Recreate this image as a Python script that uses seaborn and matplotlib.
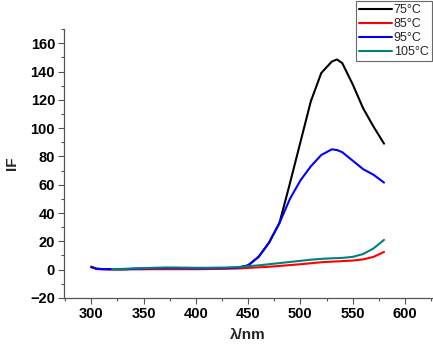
import matplotlib
matplotlib.use("Agg")
import matplotlib.pyplot as plt
import pandas as pd
import seaborn as sns
from matplotlib.ticker import MultipleLocator

sns.set_style("ticks")
plt.rcParams['font.family'] = ['Liberation Sans', 'DejaVu Sans']
plt.rcParams['font.weight'] = 'bold'

wavelength = [300, 305, 310, 320, 330, 340, 350, 360, 370, 380, 390, 400, 410, 420,
              430, 440, 450, 460, 470, 480, 490, 500, 510, 520, 530, 535, 540,
              550, 560, 570, 580]
if_75 = [1.8, 0.6, 0.4, 0.3, 0.3, 0.5, 0.8, 1.0, 1.0, 1.1, 1.0, 0.9, 0.9, 1.0,
         1.1, 1.3, 3.0, 9.0, 19.0, 33.0, 61.0, 90.0, 119.0, 139.0, 147.0, 148.5, 146.0,
         131.0, 114.0, 101.0, 89.0]
if_85 = [2.2, 0.4, 0.2, 0.1, 0.1, 0.2, 0.2, 0.3, 0.3, 0.3, 0.3, 0.3, 0.4, 0.5,
         0.6, 0.8, 1.2, 1.6, 2.0, 2.6, 3.2, 3.8, 4.5, 5.2, 5.6, 5.8, 6.0,
         6.4, 7.2, 9.0, 12.5]
if_95 = [1.8, 0.6, 0.4, 0.3, 0.3, 0.5, 0.8, 1.0, 1.0, 1.1, 1.0, 0.9, 0.9, 1.0,
         1.1, 1.3, 3.0, 9.0, 19.0, 33.0, 50.0, 63.0, 73.0, 81.0, 85.0, 84.5, 83.0,
         77.0, 71.0, 67.0, 61.5]
if_105 = [None, None, None, 0.4, 0.5, 0.8, 1.0, 1.3, 1.5, 1.5, 1.4, 1.3, 1.3, 1.4,
          1.5, 1.8, 2.4, 3.0, 3.8, 4.6, 5.4, 6.2, 7.0, 7.6, 8.0, 8.1, 8.3,
          9.0, 11.0, 15.0, 21.0]

series = [("75\u00b0C", if_75, "black"),
          ("85\u00b0C", if_85, "red"),
          ("95\u00b0C", if_95, "blue"),
          ("105\u00b0C", if_105, "#008080")]

fig = plt.figure(figsize=(4.33, 3.46), dpi=100)
ax = fig.add_axes([0.148, 0.139, 0.85, 0.777])

for label, vals, color in series:
    df = pd.DataFrame({"x": wavelength, "y": vals}).dropna()
    sns.lineplot(data=df, x="x", y="y", color=color, lw=1.5, label=label, ax=ax)

ax.set_xlim(274, 626)
ax.set_ylim(-20, 170)
ax.xaxis.set_major_locator(MultipleLocator(50))
ax.xaxis.set_minor_locator(MultipleLocator(25))
ax.yaxis.set_major_locator(MultipleLocator(20))
ax.yaxis.set_minor_locator(MultipleLocator(10))
ax.tick_params(which="major", length=4, width=0.8, color="#555555",
               labelsize=10.5, labelcolor="black", pad=2.5)
ax.tick_params(which="minor", length=2.5, width=0.8, color="#555555")
sns.despine(ax=ax)
for s in ["left", "bottom"]:
    ax.spines[s].set_color("#555555")
    ax.spines[s].set_linewidth(0.9)

ax.set_xlabel("\u03bb/nm", fontsize=11, fontweight="bold", labelpad=5)
ax.set_ylabel("IF", fontsize=11, fontweight="bold", labelpad=8)

leg = ax.legend(loc="upper right", bbox_to_anchor=(1.0, 1.0),
                bbox_transform=fig.transFigure,
                prop={"size": 9, "weight": "normal"}, frameon=True,
                fancybox=False, handlelength=2.6, handletextpad=0.15,
                borderpad=0.25, labelspacing=0.15, borderaxespad=0.1)
leg.get_frame().set_edgecolor("#444444")
leg.get_frame().set_linewidth(0.8)

fig.savefig("out.png", dpi=100)
